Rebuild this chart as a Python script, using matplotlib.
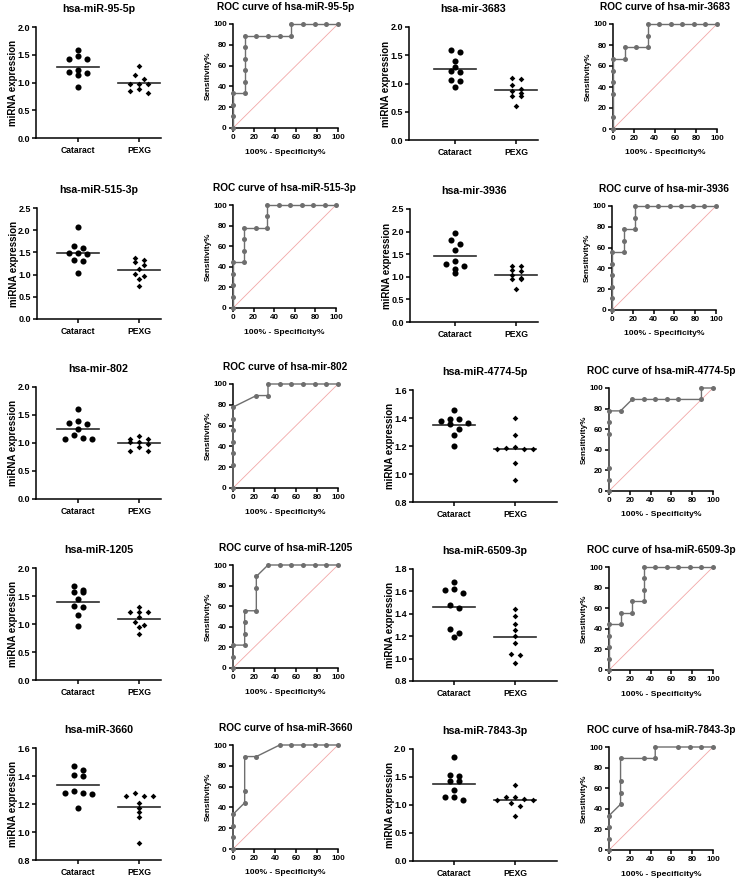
import numpy as np
import matplotlib
matplotlib.use("Agg")
import matplotlib.pyplot as plt

plt.rcParams['font.family'] = ['Liberation Sans', 'DejaVu Sans']
plt.rcParams['font.weight'] = 'bold'

W, H = 736, 881

names = ['hsa-miR-95-5p', 'hsa-mir-3683', 'hsa-miR-515-3p', 'hsa-mir-3936',
         'hsa-mir-802', 'hsa-miR-4774-5p', 'hsa-miR-1205', 'hsa-miR-6509-3p',
         'hsa-miR-3660', 'hsa-miR-7843-3p']
groups = ['Cataract', 'PEXG']

# expression values (9 per group)
cataract = [
    [1.59, 1.48, 1.43, 1.42, 1.23, 1.19, 1.17, 1.14, 0.92],
    [1.60, 1.56, 1.40, 1.30, 1.22, 1.21, 1.06, 1.05, 0.93],
    [2.08, 1.65, 1.61, 1.49, 1.48, 1.46, 1.32, 1.30, 1.04],
    [1.97, 1.81, 1.73, 1.59, 1.34, 1.29, 1.25, 1.18, 1.08],
    [1.60, 1.40, 1.35, 1.34, 1.25, 1.14, 1.09, 1.08, 1.08],
    [1.46, 1.39, 1.39, 1.376, 1.366, 1.356, 1.325, 1.28, 1.20],
    [1.67, 1.60, 1.58, 1.57, 1.45, 1.32, 1.30, 1.16, 0.96],
    [1.68, 1.62, 1.61, 1.59, 1.48, 1.45, 1.26, 1.23, 1.19],
    [1.47, 1.44, 1.41, 1.40, 1.29, 1.28, 1.28, 1.27, 1.17],
    [1.85, 1.53, 1.52, 1.43, 1.43, 1.26, 1.15, 1.15, 1.09],
]
pexg = [
    [1.30, 1.13, 1.07, 0.98, 0.98, 0.98, 0.88, 0.84, 0.81],
    [1.09, 1.08, 0.98, 0.91, 0.86, 0.84, 0.77, 0.77, 0.60],
    [1.38, 1.34, 1.28, 1.21, 1.12, 1.01, 0.97, 0.91, 0.74],
    [1.25, 1.23, 1.14, 1.12, 1.05, 0.97, 0.95, 0.95, 0.72],
    [1.12, 1.07, 1.07, 1.01, 1.01, 0.99, 0.93, 0.86, 0.86],
    [1.40, 1.28, 1.19, 1.185, 1.177, 1.177, 1.177, 1.08, 0.96],
    [1.31, 1.22, 1.21, 1.21, 1.12, 1.03, 0.99, 0.94, 0.82],
    [1.44, 1.38, 1.31, 1.255, 1.20, 1.14, 1.04, 1.03, 0.96],
    [1.28, 1.26, 1.26, 1.26, 1.21, 1.17, 1.14, 1.11, 0.92],
    [1.36, 1.14, 1.14, 1.10, 1.09, 1.09, 1.04, 0.98, 0.81],
]
# y axis (min, max, step) of each dot plot
y_ranges = [(0, 2.0, 0.5), (0, 2.0, 0.5), (0, 2.5, 0.5), (0, 2.5, 0.5),
            (0, 2.0, 0.5), (0.8, 1.6, 0.2), (0, 2.0, 0.5), (0.8, 1.8, 0.2),
            (0.8, 1.6, 0.2), (0, 2.0, 0.5)]

# ROC points as counts out of 9 (false positives, true positives)
roc_fp = [
    [0, 0, 0, 0, 1, 1, 1, 1, 1, 1, 2, 3, 4, 5, 5, 6, 7, 8, 9],
    [0, 0, 0, 0, 0, 0, 1, 1, 2, 3, 3, 3, 4, 5, 6, 7, 8, 9],
    [0, 0, 0, 0, 0, 1, 1, 1, 1, 2, 3, 3, 3, 4, 5, 6, 7, 8, 9],
    [0, 0, 0, 0, 0, 0, 1, 1, 1, 2, 2, 2, 3, 4, 5, 6, 7, 8, 9],
    [0, 0, 0, 0, 0, 0, 0, 2, 3, 3, 4, 5, 6, 7, 8, 9],
    [0, 0, 0, 0, 0, 0, 1, 2, 3, 4, 5, 6, 8, 8, 9],
    [0, 0, 0, 1, 1, 1, 1, 2, 2, 2, 3, 4, 5, 6, 7, 8, 9],
    [0, 0, 0, 0, 0, 1, 1, 2, 2, 3, 3, 3, 3, 4, 5, 6, 7, 8, 9],
    [0, 0, 0, 0, 1, 1, 1, 2, 4, 5, 6, 7, 8, 9],
    [0, 0, 0, 0, 1, 1, 1, 1, 3, 4, 4, 6, 7, 8, 9],
]
roc_tp = [
    [0, 1, 2, 3, 3, 4, 5, 6, 7, 8, 8, 8, 8, 8, 9, 9, 9, 9, 9],
    [0, 1, 3, 4, 5, 6, 6, 7, 7, 7, 8, 9, 9, 9, 9, 9, 9, 9],
    [0, 1, 2, 3, 4, 4, 5, 6, 7, 7, 7, 8, 9, 9, 9, 9, 9, 9, 9],
    [0, 1, 2, 3, 4, 5, 5, 6, 7, 7, 8, 9, 9, 9, 9, 9, 9, 9, 9],
    [0, 2, 3, 4, 5, 6, 7, 8, 8, 9, 9, 9, 9, 9, 9, 9],
    [0, 1, 2, 5, 6, 7, 7, 8, 8, 8, 8, 8, 8, 9, 9],
    [0, 1, 2, 2, 3, 4, 5, 5, 7, 8, 9, 9, 9, 9, 9, 9, 9],
    [0, 1, 2, 3, 4, 4, 5, 5, 6, 6, 7, 8, 9, 9, 9, 9, 9, 9, 9],
    [0, 1, 2, 3, 4, 5, 8, 8, 9, 9, 9, 9, 9, 9],
    [0, 1, 2, 3, 4, 5, 6, 8, 8, 8, 9, 9, 9, 9, 9],
]

# layout in pixels: (left, top, right, bottom)
dot_boxes = [(36, 27, 161, 138), (409, 27, 538, 140),
             (37, 208, 161, 319), (410, 209, 538, 322),
             (36, 387, 161, 499), (413, 390, 557, 502),
             (36, 568, 161, 680), (413, 569, 557, 681),
             (36, 748, 161, 860), (413, 749, 557, 861)]
group_px = [(78, 139), (455, 516), (78, 139), (455, 516), (78, 139),
            (454, 515), (78, 139), (454, 515), (78, 139), (454, 515)]
roc_boxes = [(233, 24, 338, 128), (613, 24, 717, 129),
             (233, 205, 336, 308), (612, 206, 716, 310),
             (233, 384, 338, 488), (609, 388, 713, 491),
             (233, 565, 338, 668), (609, 567, 713, 670),
             (233, 745, 338, 849), (609, 747, 713, 850)]


def px_axes(fig, l, t, r, b):
    return fig.add_axes([l / W, 1 - b / H, (r - l) / W, (b - t) / H])


def swarm(vals, ppu, thr):
    # points closer than thr pixels in y share a row and are spread symmetrically
    order = np.argsort(vals)[::-1]
    offs = np.zeros(len(vals))
    rows = []
    for i in order:
        if rows and abs(vals[rows[-1][0]] - vals[i]) * ppu < thr:
            rows[-1].append(i)
        else:
            rows.append([i])
    for row in rows:
        n = len(row)
        if n % 2:
            slots = [0]
            for s in range(1, n // 2 + 1):
                slots += [-s, s]
        else:
            slots = []
            for s in range(n // 2):
                slots += [-s - 0.5, s + 0.5]
        for i, s in zip(row, slots):
            offs[i] = s
    return offs


def style(ax):
    for s in ['top', 'right']:
        ax.spines[s].set_visible(False)
    for s in ['left', 'bottom']:
        ax.spines[s].set_linewidth(1.1)
    ax.tick_params(direction='out', length=3, width=1.1, pad=1.5)


fig = plt.figure(figsize=(W / 100, H / 100), dpi=100)

for k in range(10):
    # dot plot
    l, t, r, b = dot_boxes[k]
    c0, c1 = group_px[k]
    gap = c1 - c0
    ax = px_axes(fig, l, t, r, b)
    style(ax)
    ax.set_xlim((l - c0) / gap, 1 + (r - c1) / gap)
    lo, hi, step = y_ranges[k]
    ax.set_ylim(lo, hi)
    yppu = (b - t) / (hi - lo)
    for g, vals, mk, ms, thr in [(0, cataract[k], 'o', 4.4, 4.4),
                                 (1, pexg[k], 'D', 2.9, 4.0)]:
        vals = np.array(vals)
        x = g + swarm(vals, yppu, thr) * 9.0 / gap
        ax.plot(x, vals, mk, color='black', ms=ms, mew=0, clip_on=False, zorder=3)
        m = vals.mean()
        ax.plot([g - 21.0 / gap, g + 21.0 / gap], [m, m], color='#2b2b2b', lw=1.2, zorder=2)
    ax.set_xticks([0, 1])
    ax.set_xticklabels(groups, fontsize=6.2, fontweight='bold')
    ax.tick_params(axis='x', pad=3)
    ax.set_yticks(np.arange(lo, hi + step / 2, step))
    ax.set_yticklabels(['%.1f' % v for v in np.arange(lo, hi + step / 2, step)],
                       fontsize=6.5, fontweight='bold')
    ax.set_title(names[k], fontsize=7.7, fontweight='bold', pad=10.5)
    fig.text((l - 23) / W, 1 - (t + b) / 2 / H, 'miRNA expression', rotation=90,
             ha='center', va='center', fontsize=7.0, fontweight='bold')

    # ROC curve
    l, t, r, b = roc_boxes[k]
    ax = px_axes(fig, l, t, r, b)
    style(ax)
    ax.set_xlim(0, 100)
    ax.set_ylim(0, 100)
    ax.plot([0, 100], [0, 100], color='#f2a7a7', lw=0.6, zorder=1)
    fp = np.array(roc_fp[k]) * 100 / 9
    tp = np.array(roc_tp[k]) * 100 / 9
    ax.plot(fp, tp, '-o', color='#6e6e6e', lw=1.0, ms=3.6, mew=0, clip_on=False, zorder=4)
    ax.set_xticks(np.arange(0, 101, 20))
    ax.set_yticks(np.arange(0, 101, 20))
    ax.tick_params(labelsize=5.8)
    for lab in ax.get_xticklabels() + ax.get_yticklabels():
        lab.set_fontweight('bold')
    ax.set_title('ROC curve of ' + names[k], fontsize=7.3, fontweight='bold', pad=10)
    fig.text((l - 25) / W, 1 - (t + b) / 2 / H, 'Sensitivity%', rotation=90,
             ha='center', va='center', fontsize=5.9, fontweight='bold')
    fig.text((l + r) / 2 / W, 1 - (b + 24) / H, '100% - Specificity%',
             ha='center', va='center', fontsize=6.1, fontweight='bold')

fig.savefig('out.png', dpi=100)
